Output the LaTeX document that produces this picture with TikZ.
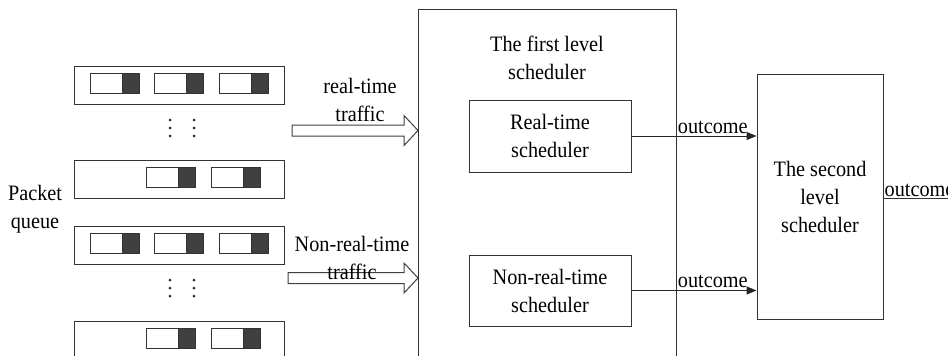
\documentclass[tikz,border=0pt]{standalone}
\usepackage{fontspec}
\setmainfont{Liberation Serif}[FakeStretch=0.92]
\usetikzlibrary{arrows.meta}

\tikzset{
  box/.style={draw=black!80, line width=1pt, inner sep=0pt},
  queue/.style={box, minimum width=210pt, minimum height=38pt},
  pkt/.style={box, minimum width=49pt, minimum height=20pt,
    path picture={\filldraw[fill=black!75, draw=black!80]
      ([xshift=-17pt]path picture bounding box.north east) rectangle (path picture bounding box.south east);}},
  lbl/.style={align=center, font=\fontsize{22}{28}\selectfont},
  flow/.style={draw=black!85, line width=1pt, -{Triangle[length=10pt,width=8pt]}},
  hollow/.style={draw=black!75, line width=1pt, fill=white}
}

\begin{document}
\begin{tikzpicture}[x=1pt,y=-1pt]
\clip (0,0) rectangle (948,356);

% packet queues
\node[queue] (q1) at (179,85) {};
\node[queue] (q2) at (179,179) {};
\node[queue] (q3) at (179,245) {};
\node[queue] (q4) at (179,340) {};
\foreach \q in {q1,q3}
  \foreach \dx [count=\i] in {-64.5,0,64.5}
    \node[pkt] (\q p\i) at ([xshift=\dx pt,yshift=2pt]\q) {};
\foreach \q in {q2,q4}
  \foreach \dx [count=\i] in {-8,56.5}
    \node[pkt] (\q p\i) at ([xshift=\dx pt,yshift=2pt]\q) {};
\foreach \x in {170,194}
  \foreach \y in {120,128,136,280,288,296}
    \fill[black!85] (\x,\y) circle (1.5pt);
\node[lbl] (pq) at (35,209) {Packet\\queue};

% traffic into the first level
\coordinate (rtin) at (418,130.5);
\coordinate (nrtin) at (418,278);
\draw[hollow] (rtin) -- ++(-14,-15) -- ++(0,9.5) -- ++(-112,0) -- ++(0,11) -- ++(112,0) -- ++(0,9.5) -- cycle;
\draw[hollow] (nrtin) -- ++(-14,-15) -- ++(0,9.5) -- ++(-116,0) -- ++(0,11) -- ++(116,0) -- ++(0,9.5) -- cycle;
\node[lbl] (rtt) at (360,100) {real-time\\traffic};
\node[lbl] (nrtt) at (352,258) {Non-real-time\\traffic};

% schedulers
\node[box, minimum width=258pt, minimum height=400pt, anchor=north west] (fl) at (418,9) {};
\node[lbl] (flt) at (547,58) {The first level\\scheduler};
\node[box, lbl, minimum width=162pt, minimum height=72pt] (rt) at (550,136) {Real-time\\scheduler};
\node[box, lbl, minimum width=162pt, minimum height=71pt] (nrt) at (550,290.5) {Non-real-time\\scheduler};
\node[box, lbl, minimum width=126pt, minimum height=245pt] (sl) at (820,196.5) {The second\\level\\scheduler};

\draw[flow] (rt.east) -- (rt.east -| sl.west) node[lbl, pos=0.65, above, inner sep=2pt] (o1) {outcome};
\draw[flow] (nrt.east) -- (nrt.east -| sl.west) node[lbl, pos=0.65, above, inner sep=2pt] (o2) {outcome};
\coordinate (sink) at (960,198);
\draw[box] (sl.east |- sink) -- (sink);
\node[lbl, anchor=south west, inner sep=1pt] (o3) at (sl.east |- sink) {outcome};
\end{tikzpicture}
\end{document}
